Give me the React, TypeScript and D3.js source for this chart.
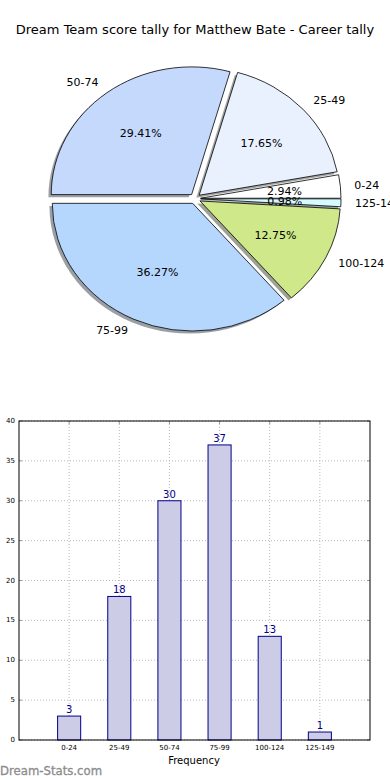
import React from "react";
import * as d3 from "d3";

const categories = ["0-24", "25-49", "50-74", "75-99", "100-124", "125-149"];
const counts = [3, 18, 30, 37, 13, 1];
const pieColors = ["#ffffff", "#eaf1fe", "#c5d9fd", "#b5d6fd", "#cfe98a", "#d6fbfe"];
const yTicks = [0, 5, 10, 15, 20, 25, 30, 35, 40];
const title = "Dream Team score tally for Matthew Bate - Career tally";
const xLabel = "Frequency";
const watermark = "Dream-Stats.com";

const W = 390;
const H = 780;
const FONT = "DejaVu Sans, sans-serif";

export default function App() {
  // Pie geometry (elliptical, matplotlib style)
  const cx = 195;
  const cy = 198.7;
  const rx = 140.4;
  const ry = 127.7;
  const explode = 0.04;
  const total = d3.sum(counts);

  const pie = d3
    .pie<number>()
    .sort(null)
    .startAngle(Math.PI / 2)
    .endAngle(Math.PI / 2 - 2 * Math.PI)(counts);
  const arc = d3.arc<d3.PieArcDatum<number>>().innerRadius(0).outerRadius(1);

  const slices = pie.map((p, i) => {
    const a0 = Math.PI / 2 - p.startAngle;
    const a1 = Math.PI / 2 - p.endAngle;
    const tm = (a0 + a1) / 2;
    const ex = explode * Math.cos(tm);
    const ey = -explode * Math.sin(tm);
    const lx = cx + rx * (1.1 * Math.cos(tm) + ex);
    const ly = cy + ry * (-1.1 * Math.sin(tm) + ey);
    const px = cx + rx * (0.6 * Math.cos(tm) + ex);
    const py = cy + ry * (-0.6 * Math.sin(tm) + ey);
    const col = d3.color(pieColors[i])!.rgb();
    const shadow = d3.rgb(col.r * 0.3, col.g * 0.3, col.b * 0.3).toString();
    return {
      d: arc(p) as string,
      ex,
      ey,
      lx,
      ly,
      px,
      py,
      anchor: Math.cos(tm) > 0 ? "start" : "end",
      label: categories[i],
      pct: ((100 * counts[i]) / total).toFixed(2) + "%",
      color: pieColors[i],
      shadow,
    };
  });

  // Bar chart geometry
  const left = 19;
  const right = 370;
  const top = 421;
  const bottom = 740;
  const x = d3.scaleLinear().domain([-1, 6]).range([left, right]);
  const y = d3.scaleLinear().domain([0, 40]).range([bottom, top]);
  const barW = 0.46;
  const grid = "#b8b8b8";

  return (
    <svg
      width={W}
      height={H}
      style={{ position: "absolute", left: 0, top: 0, background: "#fff" }}
      fontFamily={FONT}
    >
      <rect width={W} height={H} fill="#fff" />
      <text x={195} y={34} textAnchor="middle" fontSize={13} fill="#000">
        {title}
      </text>

      {/* shadows */}
      <g transform={`translate(${cx},${cy}) scale(${rx},${ry})`}>
        {slices.map((s, i) => (
          <path
            key={"sh" + i}
            d={s.d}
            transform={`translate(${s.ex - 0.02},${s.ey + 0.02})`}
            fill={s.shadow}
            fillOpacity={0.5}
          />
        ))}
        {slices.map((s, i) => (
          <path
            key={"w" + i}
            d={s.d}
            transform={`translate(${s.ex},${s.ey})`}
            fill={s.color}
            stroke="#000"
            strokeWidth={0.8}
            vectorEffect="non-scaling-stroke"
          />
        ))}
      </g>
      {slices.map((s, i) => (
        <text
          key={"l" + i}
          x={s.lx}
          y={s.ly}
          textAnchor={s.anchor}
          dominantBaseline="central"
          fontSize={11}
          fill="#000"
        >
          {s.label}
        </text>
      ))}
      {slices.map((s, i) => (
        <text
          key={"p" + i}
          x={s.px}
          y={s.py}
          textAnchor="middle"
          dominantBaseline="central"
          fontSize={11}
          fill="#000"
        >
          {s.pct}
        </text>
      ))}

      {/* bar chart */}
      {yTicks.map((t) => (
        <g key={"yg" + t}>
          <line
            x1={left}
            x2={right}
            y1={y(t)}
            y2={y(t)}
            stroke={grid}
            strokeWidth={1}
            strokeDasharray="1,2"
          />
          <line x1={left} x2={left + 3} y1={y(t)} y2={y(t)} stroke="#999" />
          <line x1={right - 3} x2={right} y1={y(t)} y2={y(t)} stroke="#999" />
          <text
            x={left - 4}
            y={y(t)}
            textAnchor="end"
            dominantBaseline="central"
            fontSize={7}
            fill="#000"
          >
            {t}
          </text>
        </g>
      ))}
      {categories.map((c, i) => (
        <g key={"xg" + i}>
          <line
            x1={x(i)}
            x2={x(i)}
            y1={top}
            y2={bottom}
            stroke={grid}
            strokeWidth={1}
            strokeDasharray="1,2"
          />
          <line x1={x(i)} x2={x(i)} y1={top} y2={top + 3} stroke="#999" />
          <line x1={x(i)} x2={x(i)} y1={bottom - 3} y2={bottom} stroke="#999" />
          <text x={x(i)} y={750} textAnchor="middle" fontSize={7} fill="#000">
            {c}
          </text>
        </g>
      ))}
      {counts.map((v, i) => (
        <g key={"b" + i}>
          <rect
            x={x(i - barW / 2)}
            y={y(v)}
            width={x(barW) - x(0)}
            height={y(0) - y(v)}
            fill="#ccccE6"
            stroke="#00008b"
            strokeWidth={1}
          />
          <text
            x={x(i)}
            y={y(v) - 3}
            textAnchor="middle"
            fontSize={10}
            fill="#00008b"
          >
            {v}
          </text>
        </g>
      ))}
      <rect
        x={left}
        y={top}
        width={right - left}
        height={bottom - top}
        fill="none"
        stroke="#000"
        strokeWidth={1}
      />
      <text x={194} y={764} textAnchor="middle" fontSize={10} fill="#000">
        {xLabel}
      </text>
      <text x={0} y={775} fontSize={11.7} fill="#8c8c8c" stroke="#8c8c8c" strokeWidth={0.3}>
        {watermark}
      </text>
    </svg>
  );
}
